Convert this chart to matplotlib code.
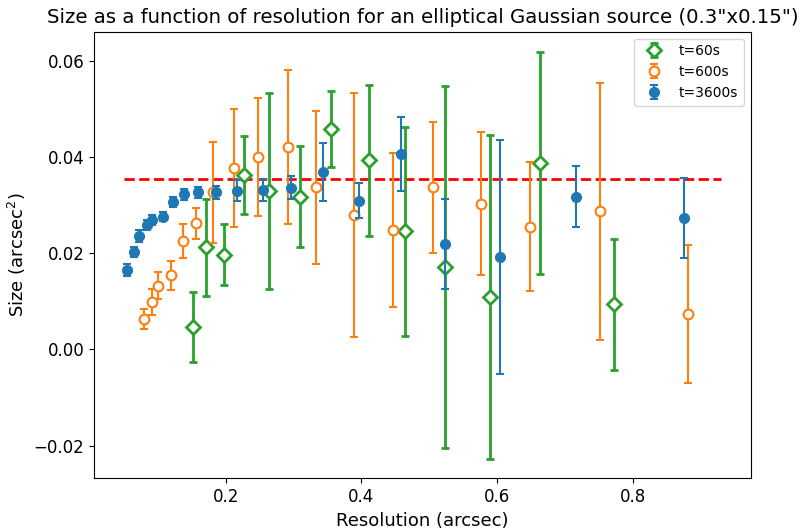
import matplotlib
matplotlib.use("Agg")
import matplotlib.pyplot as plt

# t=3600s
res_3600 = [0.0546, 0.0645, 0.0729, 0.0848, 0.0921, 0.1078, 0.1226, 0.1384, 0.159, 0.1856,
            0.2171, 0.2555, 0.2959, 0.3441, 0.3968, 0.4584, 0.5238, 0.605, 0.7172, 0.8757]
size_3600 = [0.0165, 0.0202, 0.0236, 0.0258, 0.0269, 0.0276, 0.0306, 0.0322, 0.0326, 0.0326,
             0.0330, 0.0331, 0.0336, 0.0368, 0.0309, 0.0406, 0.0219, 0.0191, 0.0317, 0.0273]
err_3600 = [0.0013, 0.0011, 0.0012, 0.0010, 0.0010, 0.0010, 0.0011, 0.0012, 0.0012, 0.0014,
            0.0022, 0.0023, 0.0024, 0.0060, 0.0037, 0.0077, 0.0094, 0.0243, 0.0063, 0.0084]

# t=600s
res_600 = [0.0797, 0.0921, 0.101, 0.1192, 0.1369, 0.1561, 0.1816, 0.2118, 0.2481, 0.2915,
           0.3337, 0.3890, 0.447, 0.506, 0.5759, 0.6493, 0.7516, 0.8811]
size_600 = [0.0063, 0.0098, 0.0132, 0.0154, 0.0225, 0.0262, 0.0326, 0.0377, 0.0400, 0.0420,
            0.0337, 0.0279, 0.0248, 0.0337, 0.0303, 0.0255, 0.0287, 0.0073]
err_600 = [0.0021, 0.0027, 0.0028, 0.0030, 0.0035, 0.0032, 0.0105, 0.0123, 0.0123, 0.0160,
           0.0159, 0.0253, 0.0160, 0.0136, 0.0148, 0.0134, 0.0267, 0.0143]

# t=60s
res_60 = [0.1512, 0.1713, 0.1974, 0.2274, 0.2634, 0.3101, 0.3559, 0.4111, 0.4637, 0.5238,
          0.5898, 0.6641, 0.7719]
size_60 = [0.0047, 0.0212, 0.0197, 0.0362, 0.0329, 0.0317, 0.0458, 0.0393, 0.0245, 0.0172,
           0.0109, 0.0387, 0.0094]
err_60 = [0.0073, 0.0101, 0.0064, 0.0081, 0.0204, 0.0105, 0.0079, 0.0157, 0.0218, 0.0376,
          0.0336, 0.0231, 0.0136]

true_x = [0.05, 0.93]
true_size = [0.0353, 0.0353]

fig = plt.figure(figsize=(8.05, 5.29), dpi=100)
ax = fig.add_axes([0.1168, 0.0958, 0.8157, 0.8442])

ax.plot(true_x, true_size, 'r--', lw=2, zorder=1)

ax.errorbar(res_60, size_60, yerr=err_60, fmt='D', color='#2ca02c', mfc='white',
            mec='#2ca02c', mew=2, ms=7, elinewidth=2, capsize=3, capthick=2, label='t=60s', zorder=2)
ax.errorbar(res_600, size_600, yerr=err_600, fmt='o', color='#ff7f0e', mfc='white',
            mec='#ff7f0e', mew=1.5, ms=7, elinewidth=1.5, capsize=3, capthick=1.5, label='t=600s', zorder=3)
ax.errorbar(res_3600, size_3600, yerr=err_3600, fmt='o', color='#1f77b4',
            ms=7, elinewidth=1.5, capsize=3, capthick=1.5, label='t=3600s', zorder=4)

ax.set_title('Size as a function of resolution for an elliptical Gaussian source (0.3"x0.15")', fontsize=14.2)
ax.set_xlabel('Resolution (arcsec)', fontsize=13)
ax.set_ylabel('Size (arcsec$^2$)', fontsize=13)
ax.tick_params(labelsize=12)
ax.set_xticks([0.2, 0.4, 0.6, 0.8])
ax.set_yticks([-0.02, 0.0, 0.02, 0.04, 0.06])
ax.set_xlim(0.006, 0.974)
ax.set_ylim(-0.0268, 0.066)
ax.legend(loc='upper right', fontsize=10)

fig.savefig('out.png', dpi=100)
